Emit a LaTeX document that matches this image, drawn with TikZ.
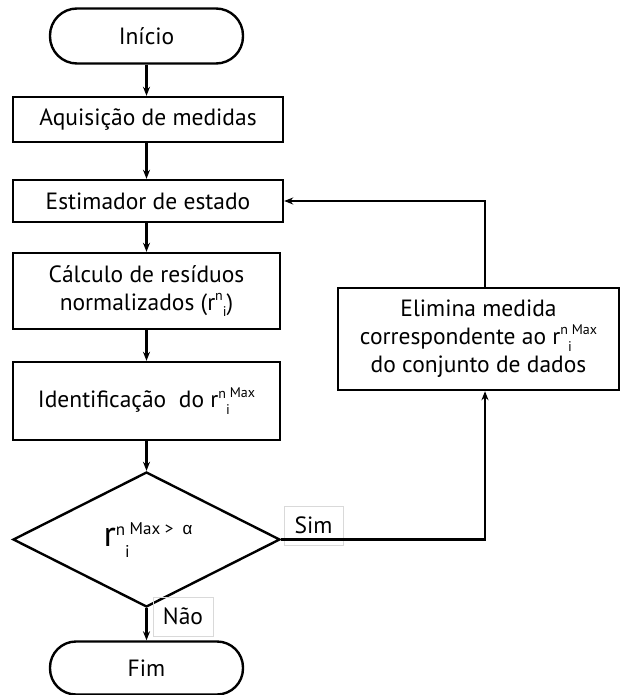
\documentclass[tikz,border=0pt]{standalone}
\usepackage{fontspec}
\setmainfont{PT Sans}
\newfontfamily\greekfont{Liberation Sans}
\usetikzlibrary{shapes.geometric,arrows.meta}
\newcommand\smallsz{\fontsize{14}{15}\selectfont}
% residual symbol r^n_i with an optional trailing superscript
\newcommand\resid[1]{r\raisebox{0.42em}{\smallsz n}\raisebox{-0.28em}{\smallsz i}\raisebox{0.45em}{\smallsz #1}}
\begin{document}
\begin{tikzpicture}[x=1pt,y=-1pt,
  every node/.style={font=\fontsize{23.5}{28}\selectfont, inner sep=0pt},
  procbox/.style={draw, line width=2.4pt, rectangle, align=center},
  termbox/.style={draw, line width=2.4pt, rectangle, rounded corners=27pt,
    minimum width=193pt, minimum height=55pt},
  decbox/.style={draw, line width=2.4pt, diamond, minimum width=267pt, minimum height=135pt},
  tagbox/.style={draw=black!15, line width=0.8pt, rectangle},
  arr/.style={line width=2.2pt, -{Stealth[length=9pt,width=7pt]}}]
\useasboundingbox (0,0) rectangle (620,695);
\fill[white] (0,0) rectangle (620,695);

\node[termbox] (inicio) at (146.5,36) {Início};
\node[procbox, minimum width=270pt, minimum height=45pt] (aquis) at (148,119.5) {Aquisição de medidas};
\node[procbox, minimum width=270pt, minimum height=42pt] (estim) at (148,201) {Estimador de estado};
\node[procbox, minimum width=267pt, minimum height=76pt] (calc) at (146.5,291)
  {Cálculo de resíduos\\normalizados (\resid{})};
\node[procbox, minimum width=267pt, minimum height=78pt] (ident) at (146.5,401)
  {Identificação\ \ do \resid{Max}};
\node[decbox] (dec) at (146.5,539.5) {};
\node (dectxt) at (148,540) {\fontsize{36}{36}\selectfont r\raisebox{0.3em}{\fontsize{17}{17}\selectfont n}\raisebox{-0.32em}{\fontsize{17}{17}\selectfont i}\raisebox{0.33em}{\fontsize{17}{17}\selectfont Max >\ \ {\greekfont α}}};
\node[termbox, minimum height=53pt, rounded corners=26pt] (fim) at (146.5,668) {Fim};
\node[procbox, minimum width=281pt, minimum height=102pt] (elim) at (478.5,339)
  {Elimina medida\\correspondente ao \resid{Max}\\do conjunto de dados};

\node[tagbox, minimum width=59pt, minimum height=39pt] (sim) at (313.5,525.5) {Sim};
\node[tagbox, minimum width=60pt, minimum height=39pt] (nao) at (183,616.5) {Não};

\draw[arr] (inicio.south) -- (inicio.south |- aquis.north);
\draw[arr] (aquis.south -| inicio.south) -- (inicio.south |- estim.north);
\draw[arr] (estim.south -| inicio.south) -- (inicio.south |- calc.north);
\draw[arr] (calc.south) -- (ident.north);
\draw[arr] (ident.south) -- (dec.north);
\draw[arr] (dec.south) -- (fim.north);
\draw[arr] (dec.east) -| ([xshift=6.5pt]elim.south);
\draw[arr] ([xshift=6.5pt]elim.north) |- (estim.east);
\end{tikzpicture}
\end{document}
